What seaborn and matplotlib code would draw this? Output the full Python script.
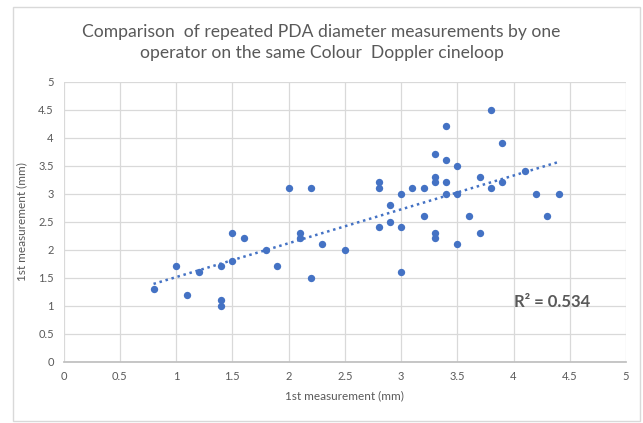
"""
Repeated PDA diameter measurements - scatter with linear trend
"""

import matplotlib
matplotlib.use('Agg')
import matplotlib.pyplot as plt
import seaborn as sns
import pandas as pd
from matplotlib.patches import Rectangle

first_x = [0.8, 1.0, 1.1, 1.2, 1.4, 1.4, 1.4, 1.5, 1.5, 1.6,
           1.8, 1.9, 2.0, 2.1, 2.1, 2.2, 2.2, 2.3, 2.5, 2.8,
           2.8, 2.8, 2.9, 2.9, 3.0, 3.0, 3.0, 3.1, 3.2, 3.2,
           3.3, 3.3, 3.3, 3.3, 3.3, 3.4, 3.4, 3.4, 3.4, 3.5,
           3.5, 3.5, 3.6, 3.7, 3.7, 3.8, 3.8, 3.9, 3.9, 4.1,
           4.2, 4.3, 4.4]
first_y = [1.3, 1.7, 1.2, 1.6, 1.7, 1.1, 1.0, 2.3, 1.8, 2.2,
           2.0, 1.7, 3.1, 2.3, 2.2, 3.1, 1.5, 2.1, 2.0, 3.2,
           3.1, 2.4, 2.8, 2.5, 3.0, 2.4, 1.6, 3.1, 3.1, 2.6,
           3.7, 3.3, 3.2, 2.3, 2.2, 4.2, 3.6, 3.2, 3.0, 3.5,
           3.0, 2.1, 2.6, 3.3, 2.3, 4.5, 3.1, 3.9, 3.2, 3.4,
           3.0, 2.6, 3.0]
r2_label = 'R² = 0.534'
ticks = [0, 0.5, 1, 1.5, 2, 2.5, 3, 3.5, 4, 4.5, 5]

df = pd.DataFrame({'x': first_x, 'y': first_y})

sns.set_theme(style='white')
plt.rcParams['font.family'] = ['Lato', 'DejaVu Sans']

BLUE = '#4472C4'
GRAY = '#595959'

fig = plt.figure(figsize=(6.43, 4.23), dpi=100)
ax = fig.add_axes([0.0988, 0.1449, 0.8748, 0.662])

# chart frame
fig.patches.append(Rectangle((0.02, 0.005), 0.976, 0.979, transform=fig.transFigure,
                             fill=False, edgecolor='#d9d9d9', linewidth=1.0))

sns.regplot(data=df, x='x', y='y', scatter=False, ci=None, ax=ax,
            line_kws={'color': BLUE, 'linestyle': (0, (1, 1.5)), 'linewidth': 1.8})
sns.scatterplot(data=df, x='x', y='y', color=BLUE, s=28, edgecolor=BLUE,
                linewidth=0, ax=ax, zorder=3)

ax.set_xlim(0, 5)
ax.set_ylim(0, 5)
ax.set_xticks(ticks)
ax.set_yticks(ticks)
ax.set_xticklabels([f'{t:g}' for t in ticks])
ax.set_yticklabels([f'{t:g}' for t in ticks])
ax.grid(True, color='#d9d9d9', linewidth=0.9)
ax.set_axisbelow(True)
for side in ['top', 'right', 'left']:
    ax.spines[side].set_visible(False)
ax.spines['bottom'].set_color('#bfbfbf')
ax.tick_params(axis='both', length=0, labelsize=8, labelcolor=GRAY, pad=7)

ax.set_xlabel('1st measurement (mm)', fontsize=8.5, color=GRAY, labelpad=6)
ax.set_ylabel('1st measurement (mm)', fontsize=8.5, color=GRAY, labelpad=8)

fig.text(0.5, 0.9, 'Comparison  of repeated PDA diameter measurements by one\n'
         'operator on the same Colour  Doppler cineloop',
         ha='center', va='center', fontsize=12.6, color=GRAY, linespacing=1.4)

ax.text(4.0, 1.07, r2_label, fontsize=12, fontweight='bold', color=GRAY,
        va='center', ha='left')

fig.savefig('out.png', dpi=100)
